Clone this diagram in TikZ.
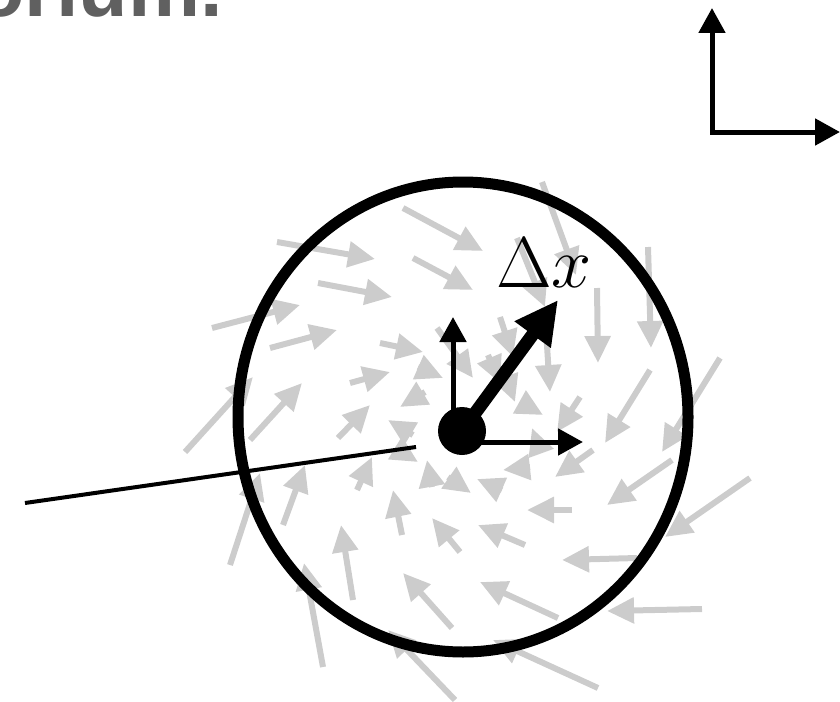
\RequirePackage{fix-cm}
\documentclass[tikz,border=0pt]{standalone}
\usepackage{amsmath,amssymb}
\usepackage{fontspec}
\usetikzlibrary{arrows.meta}
\definecolor{fieldgray}{RGB}{204,204,204}
\definecolor{titlegray}{RGB}{96,96,96}
\newfontfamily\titlefont{Liberation Sans}

\begin{document}
\begin{tikzpicture}[
  x=1pt, y=-1pt, >=Latex,
  field/.style={draw=fieldgray, line width=6pt,
                -{Triangle[width=25pt,length=27pt]}},
  basisarrow/.style={line width=5pt, -{Triangle[width=26pt,length=25pt]}},
  axisarrows/.style={line width=5pt,
                {Triangle[width=26pt,length=25pt]}-{Triangle[width=26pt,length=25pt]}},
  steparrow/.style={line width=13pt, -{Triangle[width=42pt,length=43pt]}}]
\clip (0,0) rectangle (840,701);
\node[anchor=base west, inner sep=0, text=titlegray,
      font=\titlefont\bfseries\fontsize{81}{90}\selectfont] (title) at (-25,17) {orium.};
\foreach \xa/\ya/\xb/\yb in {
    403/208/483/251, 277/242/375/259, 413/258/473/290, 318/283/392/297,
    212/328/300/305, 270/348/337/330, 380/343/423/352, 350/383/390/372,
    418/367/443/378, 425/392/400/407, 185/452/253/377, 250/440/302/383,
    338/438/370/405, 517/238/545/307, 542/182/576/275, 597/288/598/363,
    648/247/651/348, 546/330/550/392, 650/370/605/443, 720/358/662/452,
    580/397/557/432, 593/450/555/477, 672/460/607/505, 750/478/665/537,
    572/510/527/510, 637/558/562/560, 525/545/478/525, 460/552/432/518,
    558/618/480/582, 702/609/607/611, 598/688/493/640, 452/628/403/573,
    455/700/388/630, 530/467/503/470, 502/490/477/479, 448/477/471/493,
    432/487/427/460, 540/450/532/428, 525/405/543/415, 413/435/388/420,
    395/448/418/462, 437/328/473/378, 488/355/500/383, 505/375/515/402,
    402/535/393/490, 230/565/260/473, 283/525/305/465, 357/490/372/457,
    353/600/341/525, 323/667/304/563, 500/317/513/357}
  \draw[field] (\xa,\ya) -- (\xb,\yb);
\draw[line width=11pt] (463,417) ellipse [x radius=225pt, y radius=235pt];
\coordinate (probe) at (25,503);
\coordinate (probetip) at (416,447);
\draw[line width=4pt] (probe) -- (probetip);
\node[circle, fill, inner sep=0, minimum size=48pt] (pt) at (462,431) {};
\coordinate (ey) at (453,317);
\coordinate (ex) at (583,442);
\coordinate (dxtip) at (558,300);
\draw[basisarrow] (pt.center -| ey) -- (ey);
\draw[basisarrow] (pt.center |- ex) -- (ex);
\draw[steparrow] (pt.center) -- (dxtip);
\node[anchor=base west, inner sep=0, font=\fontsize{72}{80}\selectfont] (dxlabel)
  at (496,287) {$\Delta x$};
\coordinate (origin) at (712,132);
\coordinate (yaxis) at (712,8);
\coordinate (xaxis) at (840,132);
\draw[axisarrows] (yaxis) -- (origin) -- (xaxis);
\end{tikzpicture}
\end{document}
